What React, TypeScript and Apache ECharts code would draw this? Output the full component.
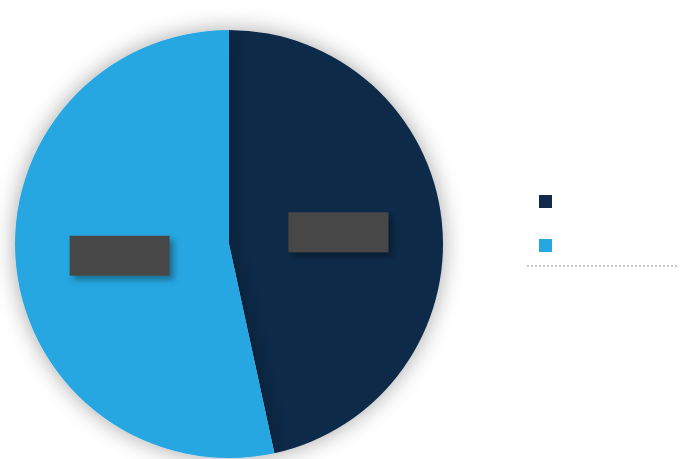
import React, { useEffect, useRef } from "react";
import * as echarts from "echarts";

const categories = ["Segment A", "Segment B"];
const values = [46.6, 53.4];
const colors = ["#11294a", "#27a7e1"];

export default function App() {
  const ref = useRef<HTMLDivElement>(null);
  useEffect(() => {
    if (!ref.current) return;
    const chart = echarts.init(ref.current, null, { renderer: "svg" });
    chart.setOption({
      animation: false,
      backgroundColor: "#ffffff",
      color: colors,
      legend: {
        orient: "vertical",
        left: 534,
        top: 190,
        itemWidth: 13,
        itemHeight: 13,
        itemGap: 31,
        icon: "rect",
        data: categories,
        formatter: () => "",
        textStyle: { color: "#333" },
      },
      graphic: [
        {
          type: "line",
          shape: { x1: 527, y1: 266, x2: 679, y2: 266 },
          style: { stroke: "#8a8a8a", lineWidth: 1, lineDash: [2, 2] },
        },
      ],
      series: [
        {
          type: "pie",
          center: [229, 244],
          radius: 214,
          startAngle: 90,
          clockwise: true,
          itemStyle: {
            shadowBlur: 22,
            shadowColor: "rgba(0,0,0,0.35)",
          },
          label: {
            show: true,
            position: "inside",
            formatter: () => " ",
            width: 100,
            height: 40,
            backgroundColor: "#474747",
            shadowBlur: 6,
            shadowOffsetX: 4,
            shadowOffsetY: 4,
            shadowColor: "rgba(0,0,0,0.35)",
          },
          labelLine: { show: false },
          data: categories.map((name, i) => ({ name, value: values[i] })),
        },
      ],
    });
    return () => chart.dispose();
  }, []);
  return (
    <div
      ref={ref}
      style={{ position: "fixed", left: 0, top: 0, width: 681, height: 459 }}
    />
  );
}
